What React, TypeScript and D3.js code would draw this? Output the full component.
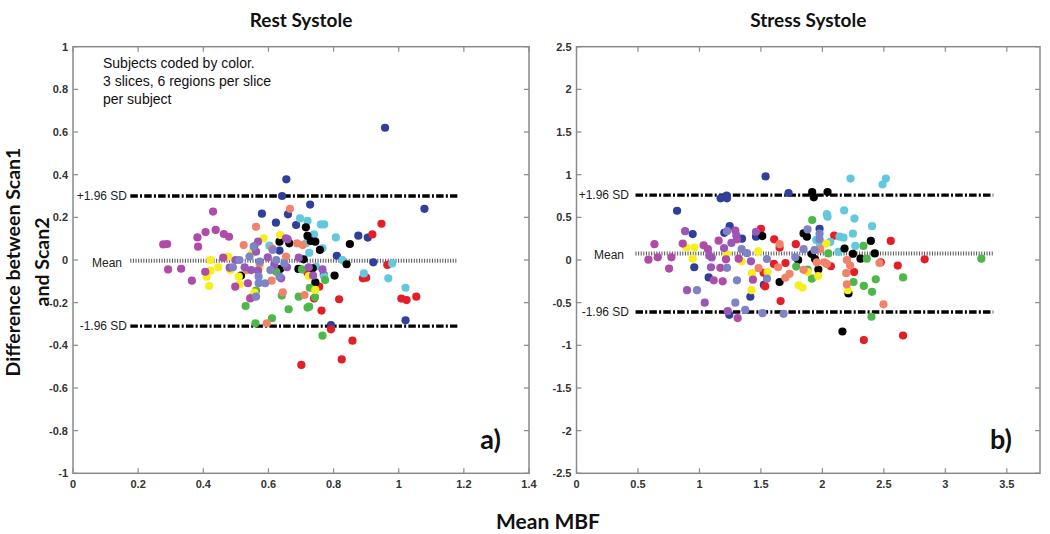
import React from "react";
import * as d3 from "d3";

// ---------- data ----------
const subjectColors = ["#2f3f9a", "#e41e26", "#62c9dc", "#000000", "#4db84a", "#f6ee1d", "#f3826b", "#b04ba8", "#9a57b8", "#7e83c6"];

// Rest systole (panel a): [mean MBF, difference]
const restBlue = [[0.958,0.62],[0.655,0.378],[0.642,0.30],[0.728,0.26],[0.58,0.217],[0.66,0.214],[0.623,0.175],[0.685,0.164],[0.876,0.114],[0.905,0.105],[1.079,0.24],[0.634,0.044],[0.81,0.02],[0.922,-0.011],[1.021,-0.283],[0.792,-0.305],[0.77,-0.07]];
const restRed = [[0.947,0.17],[0.919,0.12],[0.965,-0.023],[0.89,-0.086],[0.9,-0.083],[1.008,-0.181],[1.024,-0.188],[1.054,-0.172],[0.817,-0.184],[0.763,-0.237],[0.792,-0.325],[0.858,-0.378],[0.825,-0.466],[0.701,-0.492],[0.756,-0.125],[0.74,-0.18],[0.72,-0.06]];
const restCyan = [[0.697,0.195],[0.72,0.183],[0.761,0.167],[0.771,0.167],[0.74,0.12],[0.807,0.106],[0.603,0.067],[0.725,0.034],[0.766,0.055],[0.827,0.0],[0.98,-0.016],[0.893,-0.063],[0.968,-0.086],[1.021,-0.13],[0.746,-0.031],[0.771,-0.075],[0.715,0.078]];
const restBlack = [[0.715,0.153],[0.72,0.113],[0.73,0.089],[0.744,0.086],[0.758,0.047],[0.85,0.075],[0.84,-0.02],[0.803,-0.073],[0.692,-0.042],[0.636,-0.042],[0.708,0.003],[0.744,-0.105],[0.556,0.0625],[0.516,-0.073],[0.634,0.086],[0.664,0.078],[0.736,-0.039]];
const restGreen = [[0.53,-0.216],[0.562,-0.144],[0.56,-0.297],[0.611,-0.273],[0.641,-0.167],[0.662,-0.231],[0.693,-0.172],[0.725,-0.219],[0.72,-0.223],[0.727,-0.13],[0.743,-0.175],[0.774,-0.094],[0.766,-0.355],[0.624,-0.055],[0.703,-0.044],[0.552,-0.172]];
const restYellow = [[0.422,0.0],[0.422,-0.05],[0.41,-0.078],[0.418,-0.122],[0.446,-0.034],[0.476,0.016],[0.483,-0.047],[0.509,-0.078],[0.511,-0.114],[0.585,0.102],[0.636,0.117],[0.55,0.034],[0.557,-0.153],[0.724,-0.075],[0.744,-0.14],[0.573,-0.034]];
const restSalmon = [[0.666,0.24],[0.562,0.156],[0.524,0.07],[0.611,0.055],[0.688,0.078],[0.705,0.07],[0.644,-0.152],[0.711,-0.164],[0.595,-0.297],[0.61,-0.097],[0.573,-0.016],[0.654,0.016],[0.533,-0.047]];
const restMagenta = [[0.277,0.073],[0.289,0.075],[0.292,-0.044],[0.332,-0.041],[0.365,-0.097],[0.382,0.106],[0.384,0.0625],[0.407,0.131],[0.43,0.227],[0.438,0.141],[0.463,0.122],[0.479,0.109],[0.406,-0.055],[0.461,0.011],[0.498,-0.125],[0.544,-0.18],[0.654,0.102],[0.537,-0.109]];
const restPurple = [[0.568,0.086],[0.499,0.0],[0.527,-0.034],[0.598,0.0125],[0.693,0.011],[0.724,-0.034],[0.766,-0.044],[0.639,-0.086],[0.657,-0.034],[0.568,-0.05],[0.618,-0.023],[0.547,-0.047],[0.659,0.097],[0.562,0.039],[0.481,-0.036],[0.737,-0.073]];
const restPeriwinkle = [[0.511,0.0],[0.57,-0.109],[0.59,-0.109],[0.562,-0.172],[0.573,-0.008],[0.606,-0.047],[0.634,-0.078],[0.649,-0.016],[0.542,0.016],[0.491,-0.034],[0.57,-0.078],[0.624,0.0],[0.555,0.0625],[0.613,0.047]];

// Stress systole (panel b)
const stressBlue = [[1.538,0.98],[1.725,0.785],[1.221,0.754],[1.172,0.723],[1.224,0.723],[0.818,0.577],[0.945,0.304],[1.246,0.396],[1.202,0.319],[1.346,0.25],[1.46,0.273],[0.958,-0.085],[1.075,-0.204],[1.414,-0.431],[1.524,-0.292],[1.243,-0.642],[1.977,0.365]];
const stressBlack = [[1.917,0.796],[2.042,0.796],[1.93,0.735],[1.847,0.312],[1.874,0.273],[1.511,0.281],[2.18,0.135],[2.248,0.073],[2.31,0.015],[2.394,0.223],[2.426,0.077],[1.803,0.0],[1.652,-0.258],[2.212,-0.392],[2.163,-0.838],[1.914,0.069],[1.94,0.012],[1.967,-0.112]];
const stressCyan = [[2.229,0.954],[2.516,0.954],[2.489,0.885],[2.036,0.538],[2.042,0.508],[2.177,0.581],[2.261,0.485],[2.404,0.396],[2.248,0.308],[2.172,0.262],[2.139,0.273],[2.267,0.165],[2.131,0.096],[2.064,0.212],[1.95,0.235],[1.98,0.185]];
const stressGreen = [[1.917,0.469],[2.334,0.165],[2.361,0.015],[2.048,0.077],[2.253,-0.258],[2.337,-0.304],[2.434,-0.227],[2.656,-0.204],[2.404,-0.373],[2.399,-0.665],[3.293,0.015],[1.914,-0.219],[1.787,-0.077],[1.879,-0.112]];
const stressRed = [[1.5,0.365],[1.608,0.242],[1.784,0.185],[2.096,0.285],[2.556,0.223],[1.652,0.146],[1.606,-0.046],[1.7,-0.035],[2.069,-0.073],[2.613,-0.065],[2.832,0.008],[2.475,-0.027],[2.258,-0.142],[1.66,-0.481],[2.337,-0.938],[2.656,-0.885],[1.535,-0.308],[1.522,-0.15]];
const stressSalmon = [[1.652,0.185],[1.64,-0.085],[1.733,-0.162],[1.699,-0.208],[1.481,-0.096],[1.847,-0.115],[1.982,0.127],[1.955,-0.027],[2.015,-0.027],[2.199,0.0],[2.226,-0.065],[2.194,-0.154],[2.199,-0.285],[2.464,-0.035],[2.497,-0.519],[2.036,-0.046]];
const stressYellow = [[0.894,0.146],[0.958,0.146],[0.945,0.015],[1.224,0.069],[1.343,-0.015],[1.427,-0.154],[1.424,-0.354],[1.478,0.1],[1.554,-0.142],[1.806,-0.296],[1.838,-0.323],[1.881,-0.142],[1.965,-0.188],[2.031,0.192],[2.207,-0.354]];
const stressMagenta = [[0.585,0.004],[0.634,0.185],[0.661,0.031],[0.772,0.031],[0.753,-0.1],[0.864,0.192],[1.034,0.173],[1.069,0.127],[1.116,-0.238],[1.189,-0.25],[1.17,-0.092],[1.156,0.227],[1.292,0.346],[1.305,0.242],[1.319,0.015],[1.216,0.008],[1.311,-0.681],[1.435,-0.231]];
const stressPurple = [[0.883,0.338],[0.899,-0.354],[1.043,-0.5],[1.094,-0.085],[1.419,-0.015],[1.46,0.331],[1.08,0.05],[1.2,0.14],[1.26,0.2],[1.3,0.29],[1.23,-0.6],[1.1,0.03]];
const stressPeriwinkle = [[0.98,-0.354],[1.292,-0.5],[1.373,-0.585],[1.513,-0.623],[1.684,-0.631],[1.305,-0.238],[1.549,-0.219],[1.549,0.012],[1.386,0.081],[1.343,0.127],[1.224,0.338],[1.847,0.127],[1.879,0.358],[1.977,0.308],[1.977,0.242],[1.779,0.031],[1.224,-0.092],[1.936,0.115]];

const restSeries = [restBlue, restRed, restCyan, restBlack, restGreen, restYellow, restSalmon, restMagenta, restPurple, restPeriwinkle];
const stressSeries = [stressBlue, stressRed, stressCyan, stressBlack, stressGreen, stressYellow, stressSalmon, stressMagenta, stressPurple, stressPeriwinkle];

// limits of agreement [upper, mean, lower]
const restLimits = [0.30, -0.003, -0.31];
const stressLimits = [0.76, 0.077, -0.61];
const restLineSpan = [0.176, 1.18];
const stressLineSpan = [0.48, 3.39];

const restXTicks = [0, 0.2, 0.4, 0.6, 0.8, 1, 1.2, 1.4];
const restYTicks = [-1, -0.8, -0.6, -0.4, -0.2, 0, 0.2, 0.4, 0.6, 0.8, 1];
const stressXTicks = [0, 0.5, 1, 1.5, 2, 2.5, 3, 3.5];
const stressYTicks = [-2.5, -2, -1.5, -1, -0.5, 0, 0.5, 1, 1.5, 2, 2.5];

const limitLabels = ["+1.96 SD", "Mean", "-1.96 SD"];
const annotation = ["Subjects coded by color.", "3 slices, 6 regions per slice", "per subject"];

// ---------- drawing ----------
const TICK_FONT = "'Liberation Sans', Arial, Helvetica, sans-serif";
const TITLE_FONT = "Lato, 'Open Sans', sans-serif";

type PanelProps = {
  series: number[][][];
  limits: number[];
  span: number[];
  xDomain: number[];
  yDomain: number[];
  xRange: number[];
  yRange: number[];
  xTicks: number[];
  yTicks: number[];
  title: string;
  tag: string;
  labelEnd: number;
};

function fmt(v: number) {
  return String(Math.round(v * 100) / 100);
}

function Panel(p: PanelProps) {
  const x = d3.scaleLinear().domain(p.xDomain).range(p.xRange);
  const y = d3.scaleLinear().domain(p.yDomain).range(p.yRange);
  const [x0, x1] = p.xRange;
  const [yb, yt] = p.yRange;
  const tl = 5;
  const axisColor = "#8a8a8a";
  return (
    <g>
      <text x={(x0 + x1) / 2} y={27} textAnchor="middle" fontFamily={TITLE_FONT} fontWeight={700} fontSize={19} fill="#111">{p.title}</text>
      {/* ticks */}
      {p.xTicks.map((t, i) => (
        <g key={"xt" + i}>
          <line x1={x(t)} x2={x(t)} y1={yb} y2={yb - tl} stroke={axisColor} strokeWidth={1.2} />
          <line x1={x(t)} x2={x(t)} y1={yt} y2={yt + tl} stroke={axisColor} strokeWidth={1.2} />
          <text x={x(t)} y={yb + 15} textAnchor="middle" fontFamily={TICK_FONT} fontSize={11} fontWeight={700} fill="#333">{fmt(t)}</text>
        </g>
      ))}
      {p.yTicks.map((t, i) => (
        <g key={"yt" + i}>
          <line x1={x0} x2={x0 + tl} y1={y(t)} y2={y(t)} stroke={axisColor} strokeWidth={1.2} />
          <line x1={x1} x2={x1 - tl} y1={y(t)} y2={y(t)} stroke={axisColor} strokeWidth={1.2} />
          <text x={x0 - 5} y={y(t) + 4} textAnchor="end" fontFamily={TICK_FONT} fontSize={11} fontWeight={700} fill="#333">{fmt(t)}</text>
        </g>
      ))}
      <rect x={x0} y={yt} width={x1 - x0} height={yb - yt} fill="none" stroke={axisColor} strokeWidth={1.5} />
      {/* limit lines */}
      {p.limits.map((v, i) => (
        <g key={"lim" + i}>
          <line
            x1={x(p.span[0])}
            x2={x(p.span[1])}
            y1={y(v)}
            y2={y(v)}
            stroke={i === 1 ? "#555" : "#000"}
            strokeWidth={i === 1 ? 4 : 3.4}
            strokeDasharray={i === 1 ? "1 1.6" : "7.5 2.2 2 2.2"}
          />
          <text x={p.labelEnd - (i === 1 ? 5 : 0)} y={y(v) + (i === 1 ? 6 : 4)} textAnchor="end" fontFamily={TICK_FONT} fontSize={12} fill="#222">{limitLabels[i]}</text>
        </g>
      ))}
      {/* points */}
      {p.series.map((s, si) => (
        <g key={"s" + si} fill={subjectColors[si]}>
          {s.map((d, j) => (
            <circle key={j} cx={x(d[0])} cy={y(d[1])} r={4.1} />
          ))}
        </g>
      ))}
      <text x={x1 - 28} y={yb - 24} textAnchor="end" fontFamily={TITLE_FONT} fontWeight={700} fontSize={27} fill="#111">{p.tag}</text>
    </g>
  );
}

export default function App() {
  const W = 1050;
  const H = 534;
  return (
    <svg width={W} height={H} style={{ position: "absolute", left: 0, top: 0, background: "#fff" }}>
      <rect width={W} height={H} fill="#fff" />
      <Panel
        series={restSeries}
        limits={restLimits}
        span={restLineSpan}
        xDomain={[0, 1.4]}
        yDomain={[-1, 1]}
        xRange={[73, 529]}
        yRange={[473.3, 46.7]}
        xTicks={restXTicks}
        yTicks={restYTicks}
        title="Rest Systole"
        tag="a)"
        labelEnd={127}
      />
      <Panel
        series={stressSeries}
        limits={stressLimits}
        span={stressLineSpan}
        xDomain={[0, 3.77]}
        yDomain={[-2.5, 2.5]}
        xRange={[576.5, 1040]}
        yRange={[473.3, 46.7]}
        xTicks={stressXTicks}
        yTicks={stressYTicks}
        title="Stress Systole"
        tag="b)"
        labelEnd={629}
      />
      {annotation.map((t, i) => (
        <text key={i} x={103} y={68 + i * 18} fontFamily={TICK_FONT} fontSize={14} fill="#111">{t}</text>
      ))}
      <g transform="translate(0,262) rotate(-90)">
        <text x={0} y={20} textAnchor="middle" fontFamily={TITLE_FONT} fontWeight={700} fontSize={19.5} fill="#111">Difference between Scan1</text>
        <text x={0} y={49} textAnchor="middle" fontFamily={TITLE_FONT} fontWeight={700} fontSize={19.5} fill="#111">and Scan2</text>
      </g>
      <text x={548} y={529} textAnchor="middle" fontFamily={TITLE_FONT} fontWeight={700} fontSize={21} fill="#111">Mean MBF</text>
    </svg>
  );
}
